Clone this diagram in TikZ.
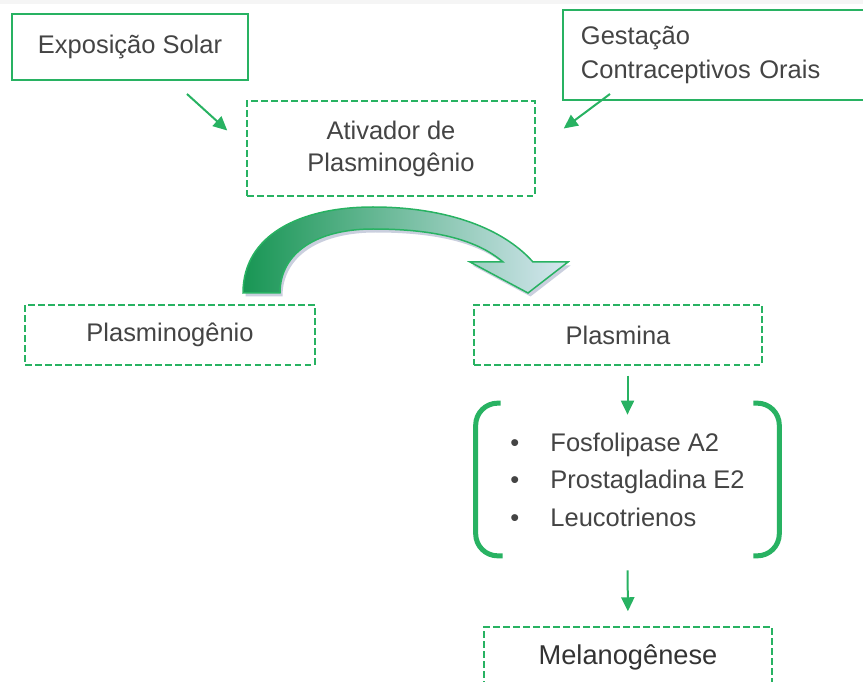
\documentclass[tikz,border=0pt]{standalone}
\usepackage{fontspec}
\setmainfont{Liberation Sans}
\usetikzlibrary{arrows.meta,calc,shadows}
\definecolor{verde}{RGB}{40,178,98}
\definecolor{texto}{RGB}{68,68,68}
\definecolor{verdeesc}{RGB}{24,150,84}
\definecolor{verdemeio}{RGB}{140,192,172}
\definecolor{azulclaro}{RGB}{214,231,240}
\definecolor{sombra}{RGB}{150,160,190}
\newcommand\blt{\makebox[0.8cm][l]{\textbullet}}

\begin{document}
\begin{tikzpicture}[x=0.02cm,y=-0.02cm,font=\fontsize{14.5}{18}\selectfont,text=texto]
  \tikzstyle{caixa}=[draw=verde,line width=0.04cm,minimum height=1.32cm]
  \tikzstyle{tracejada}=[draw=verde,line width=0.03cm,dash pattern=on 0.13cm off 0.07cm,minimum width=5.76cm,minimum height=1.2cm]
  \tikzstyle{seta}=[draw=verde,line width=0.04cm,-{Triangle[length=0.28cm,width=0.26cm]}]
  \tikzstyle{colchete}=[draw=verde,line width=0.1cm,rounded corners=0.44cm]
  \useasboundingbox (0,0) rectangle (863,682);
  \fill[black!4] (0,0) rectangle (863,4);
  \node[caixa,minimum width=4.72cm] (expo) at (130,47) {Exposição Solar};
  \node[caixa,anchor=west,minimum height=1.8cm,text width=5.6cm,inner xsep=0.36cm,align=left,
    font=\fontsize{14.5}{19.9}\selectfont] (gest) at (562,55) {Gestação\\Contraceptivos Orais};
  \node[tracejada,minimum height=1.9cm,align=center,font=\fontsize{14.5}{18.2}\selectfont]
    (ativ) at (391,148.5) {Ativador de\\Plasminogênio};
  \node[tracejada,minimum width=5.8cm] (plasmg) at (170,335) {Plasminogênio};
  \node[tracejada] (plasma) at (618,335) {Plasmina};
  \node[minimum width=6.06cm,minimum height=3.04cm,align=left,font=\fontsize{14.5}{21.3}\selectfont]
    (grupo) at (627.5,479.5) {\blt Fosfolipase A2\\\blt Prostagladina E2\\\blt Leucotrienos};
  \node[tracejada,font=\fontsize{15.5}{18}\selectfont,text=black!80] (melano) at (628,657) {Melanogênese};
  \draw[seta] ($(expo.south east)+(-62,13)$) -- ($(ativ.west)+(-19,-18)$);
  \draw[seta] ($(gest.south west)+(48,-7)$) -- ($(ativ.east)+(28,-20)$);
  \path[draw=verde,line width=0.03cm,left color=verdeesc,middle color=verdemeio,right color=azulclaro,
    drop shadow={shadow xshift=0.05cm,shadow yshift=-0.07cm,fill=sombra,opacity=0.5}]
    (243,293) .. controls (243,235) and (300,207) .. (373,207)
    .. controls (440,207) and (500,225) .. (533,262) -- (568,262) -- (528,293) -- (470,262) -- (503,262)
    .. controls (475,238) and (430,229) .. (373,229)
    .. controls (318,229) and (280,252) .. (280,293) -- cycle;
  \draw[seta,shorten <=0.2cm] (plasma.south -| grupo.north) -- ([yshift=-0.23cm]grupo.north);
  \draw[colchete] ($(grupo.north west)+(25,0)$) -- (grupo.north west) -- (grupo.south west) -- +(27,0);
  \draw[colchete] ($(grupo.north east)+(-26,0)$) -- (grupo.north east) -- (grupo.south east) -- +(-26,0);
  \draw[seta,shorten <=0.29cm,shorten >=0.3cm] (grupo.south) -- (melano.north);
\end{tikzpicture}
\end{document}
